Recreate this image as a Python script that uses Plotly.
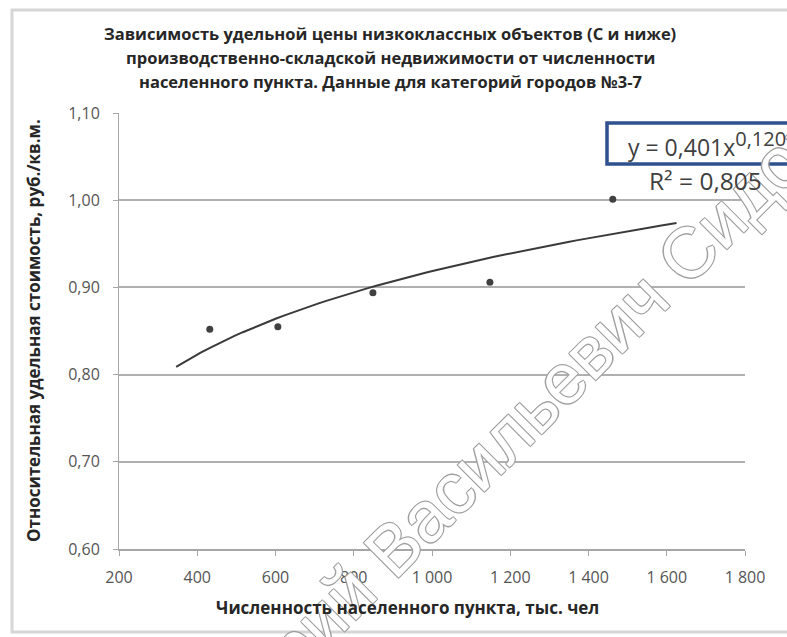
import plotly.graph_objects as go

# ---- data ----
population = [432, 606, 849, 1148, 1462]          # тыс. чел
rel_price = [0.852, 0.855, 0.894, 0.906, 1.001]   # руб./кв.м. (relative)

# power trendline shown on the chart: y = A * x^B
TREND_A = 0.401
TREND_B = 0.120
trend_x_start = 346
trend_x_end = 1625
trend_steps = 60

x_ticks = [200, 400, 600, 800, 1000, 1200, 1400, 1600, 1800]
y_ticks = [0.60, 0.70, 0.80, 0.90, 1.00, 1.10]

title_lines = [
    "Зависимость удельной цены низкоклассных объектов (С и ниже)",
    "производственно-складской недвижимости от численности",
    "населенного пункта. Данные для категорий городов №3-7",
]
x_title = "Численность населенного пункта, тыс. чел"
y_title = "Относительная удельная стоимость, руб./кв.м."
eq_main = "y = 0,401x"
eq_power = "0,120"
r2_text = "R² = 0,805"
watermark = "Дмитрий Васильевич Сидоров"

# ---- geometry ----
W, H = 787, 637
L, R, T, B = 119, 745, 113, 549


def px(xp):
    return (xp - L) / (R - L)


def py(yp):
    return (B - yp) / (B - T)


trend_x = [trend_x_start + (trend_x_end - trend_x_start) * i / trend_steps for i in range(trend_steps + 1)]
trend_y = [TREND_A * v ** TREND_B for v in trend_x]

fig = go.Figure()
fig.add_trace(go.Scatter(x=trend_x, y=trend_y, mode="lines",
                         line=dict(color="#3a3a3a", width=2), hoverinfo="skip"))
fig.add_trace(go.Scatter(x=population, y=rel_price, mode="markers",
                         marker=dict(symbol="circle", size=7, color="#404040")))

font_main = "Open Sans, Noto Sans, sans-serif"

fig.update_layout(
    width=W, height=H,
    margin=dict(l=L, r=W - R, t=T, b=H - B, pad=0),
    paper_bgcolor="white", plot_bgcolor="white",
    showlegend=False,
    separators=", ",
    font=dict(family=font_main, color="#595959"),
)
fig.update_xaxes(range=[200, 1800], tickvals=x_ticks, tickformat=",d",
                 showgrid=False, zeroline=False,
                 showline=True, linecolor="#a6a6a6", linewidth=2,
                 ticks="outside", ticklen=5, tickcolor="#a6a6a6", tickwidth=1,
                 ticklabelstandoff=8,
                 tickfont=dict(size=16, color="#555555"))
fig.update_yaxes(range=[0.6, 1.1], tickvals=y_ticks, tickformat=".2f",
                 showgrid=True, gridcolor="#b0b0b0", gridwidth=2, zeroline=False,
                 showline=True, linecolor="#a6a6a6", linewidth=1,
                 ticks="outside", ticklen=5, tickcolor="#a6a6a6", tickwidth=1,
                 ticklabelstandoff=10,
                 tickfont=dict(size=16, color="#555555"))

ann = []
# watermark first so the other texts are drawn over it
ann.append(dict(text=watermark, x=px(517), y=py(425), xref="paper", yref="paper",
                xanchor="center", yanchor="middle", showarrow=False, textangle=-45,
                font=dict(size=71, color="white", family="Liberation Sans, Arial, sans-serif",
                          shadow="-1px -1px 0 #a0a0a0, 1px -1px 0 #a0a0a0, -1px 1px 0 #a0a0a0, 1px 1px 0 #a0a0a0")))
for i, (line, yp) in enumerate(zip(title_lines, [33, 57, 82])):
    ann.append(dict(text="<b>" + line + "</b>", x=px(390), y=py(yp), xref="paper", yref="paper",
                    xanchor="center", yanchor="middle", showarrow=False,
                    font=dict(size=16.5, color="#262626", family=font_main)))
ann.append(dict(text="<b>" + x_title + "</b>", x=px(407), y=py(607), xref="paper", yref="paper",
                xanchor="center", yanchor="middle", showarrow=False,
                font=dict(size=17, color="#262626", family=font_main)))
ann.append(dict(text="<b>" + y_title + "</b>", x=px(33), y=py(331), xref="paper", yref="paper",
                xanchor="center", yanchor="middle", showarrow=False, textangle=-90,
                font=dict(size=17, color="#262626", family=font_main)))
ann.append(dict(text=eq_main + "<sup><span style='font-size:20px'>" + eq_power + "</span></sup>",
                x=px(626), y=py(144), xref="paper", yref="paper",
                xanchor="left", yanchor="middle", showarrow=False,
                font=dict(size=23, color="#404040", family=font_main)))
ann.append(dict(text=r2_text, x=px(647), y=py(180), xref="paper", yref="paper",
                xanchor="left", yanchor="middle", showarrow=False,
                font=dict(size=24.5, color="#404040", family=font_main)))
fig.update_layout(annotations=ann)

fig.update_layout(shapes=[
    dict(type="rect", xref="paper", yref="paper", x0=px(12), x1=px(800), y0=py(632), y1=py(10),
         line=dict(color="#d6d6d6", width=3), fillcolor="rgba(0,0,0,0)", layer="below"),
    dict(type="rect", xref="paper", yref="paper", x0=px(607), x1=px(800), y0=py(164), y1=py(123),
         line=dict(color="#2f528f", width=3.5), fillcolor="rgba(0,0,0,0)", layer="above"),
])

fig.write_html("out.html", config={"displayModeBar": False},
               post_script="document.body.style.margin='0px';")
